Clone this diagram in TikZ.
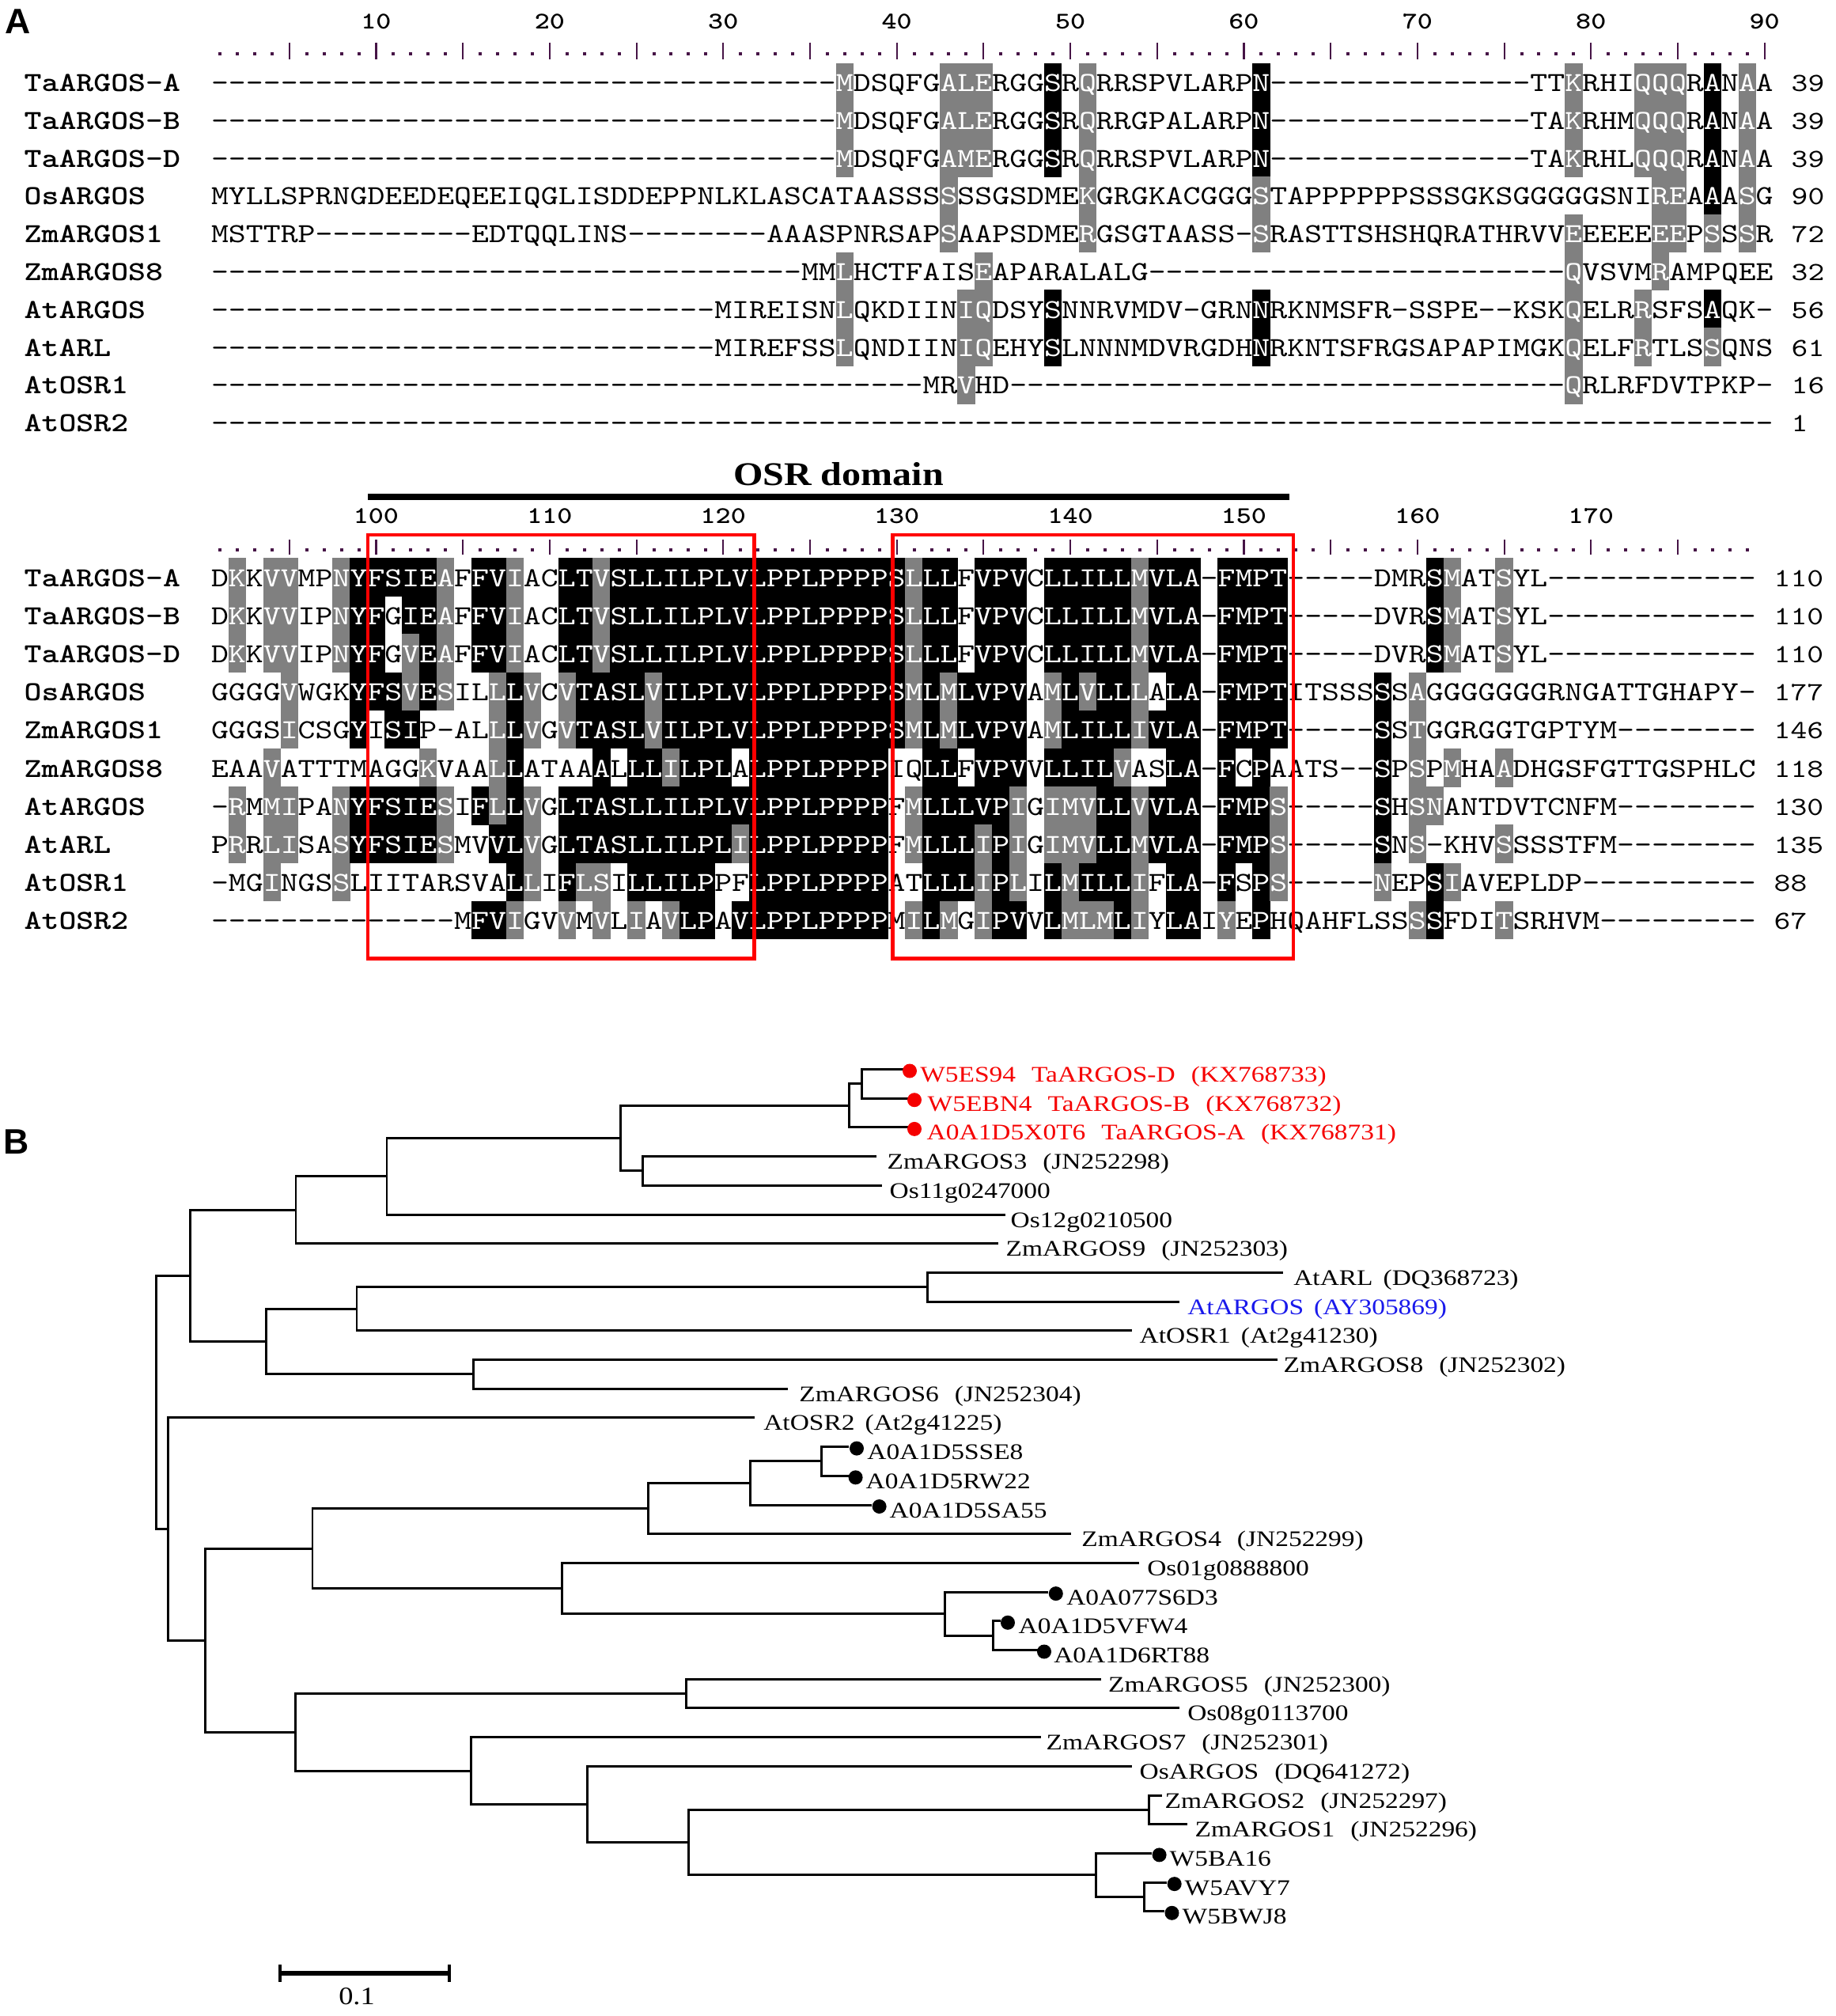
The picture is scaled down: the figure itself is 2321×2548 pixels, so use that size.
\documentclass[tikz,border=0pt]{standalone}
\usepackage{fontspec}
\setmainfont{Liberation Serif}
\newfontfamily\seqfont{lmmono10-regular.otf}[FakeStretch=1.2]
\newfontfamily\seqboldfont{lmmonolt10-bold.otf}[FakeStretch=1.2]
\newfontfamily\treefont{Liberation Serif}[FakeStretch=1.15]
\newfontfamily\leaffont{Liberation Serif}[FakeStretch=1.19]
\newfontfamily\panelfont{Liberation Sans}
\definecolor{shgray}{RGB}{128,128,128}
\definecolor{tickcol}{RGB}{70,20,70}
\definecolor{labred}{RGB}{245,0,0}
\definecolor{labblue}{RGB}{25,25,235}
\newcommand\dsp{\hspace{2.0mm}}
\newcommand\ssp{\hspace{1.3mm}}

% one residue per cell; shading code: b black, g gray, . none
\newcount\seqk
\newcommand\seqrow[4]{%
  \global\seqk=0
  \def\seqy{#1}\def\seqtag{#2}%
  \seqstep#3\relax#4\relax}
\def\seqstep#1#2\relax#3#4\relax{%
  \global\advance\seqk by 1
  \pgfmathsetmacro\seqx{278+(\the\seqk-1)*21.94}%
  \if#3b%
    \fill[cellb] (\seqx-11.2,\seqy-26) rectangle (\seqx+11.2,\seqy+22.6);
    \node[res,text=white] (\seqtag-\the\seqk) at (\seqx,\seqy+10) {#1};%
  \else\if#3g%
    \fill[cellg] (\seqx-11.2,\seqy-26) rectangle (\seqx+11.2,\seqy+22.6);
    \node[res,text=white] (\seqtag-\the\seqk) at (\seqx,\seqy+10) {#1};%
  \else
    \node[res] (\seqtag-\the\seqk) at (\seqx,\seqy+10) {#1};%
  \fi\fi
  \ifx\relax#2\relax\else\seqstep#2\relax#4\relax\fi}

\begin{document}
\begin{tikzpicture}[x=0.1mm, y=-0.1mm,
  res/.style={anchor=base, inner sep=0pt, font=\seqfont\fontsize{9.9}{10}\selectfont},
  seqname/.style={anchor=base west, inner sep=0pt, font=\seqboldfont\fontsize{9.9}{10}\selectfont},
  seqend/.style={anchor=base west, inner sep=0pt, font=\seqfont\fontsize{9.4}{10}\selectfont},
  rulenum/.style={anchor=base, inner sep=0pt, font=\seqboldfont\fontsize{8.6}{9}\selectfont},
  ruletick/.style={draw=tickcol, line width=0.6pt},
  cellb/.style={fill=black},
  cellg/.style={fill=shgray},
  osrbox/.style={draw=red, line width=1.4pt},
  branch/.style={line width=0.85pt},
  leaflab/.style={anchor=base west, inner sep=0pt, font=\leaffont\fontsize{8}{9}\selectfont},
  dotmark/.style={circle, inner sep=0pt, minimum size=1.8mm},
  panel/.style={inner sep=0pt, font=\panelfont\bfseries\fontsize{12.7}{13}\selectfont}
]
\useasboundingbox (0,0) rectangle (2321,2548);

\node[panel] (panA) at (23,27) {A};
\node[panel] (panB) at (21,1443) {B};

% ---- alignment, block one
\foreach \k in {1,...,90}{
  \pgfmathsetmacro\rx{278+(\k-1)*21.94}
  \pgfmathtruncatemacro\kmod{mod(\k,5)}
  \ifnum\kmod=0
    \draw[ruletick] (\rx,53.6) -- (\rx,75);
  \else
    \fill[tickcol] (\rx-2,65.5) rectangle (\rx+2,69.5);
  \fi
}
\foreach \n in {1,...,9}{
  \pgfmathtruncatemacro\lab{10*\n}
  \node[rulenum] (ra-\n) at ({278+(10*\n-1)*21.94},36) {\lab};
}

\seqrow{105.5}{a1}{---------- ---------- ---------- ------MDSQ FGALERGGSR QRRSPVLARP N--------- ------TTKR HIQQQRANAA}
  {.......... .......... .......... ......g... ..ggg...b. g......... b......... ........g. ..ggg.b.g.}
\seqrow{153.3}{a2}{---------- ---------- ---------- ------MDSQ FGALERGGSR QRRGPALARP N--------- ------TAKR HMQQQRANAA}
  {.......... .......... .......... ......g... ..ggg...b. g......... b......... ........g. ..ggg.b.g.}
\seqrow{201.1}{a3}{---------- ---------- ---------- ------MDSQ FGAMERGGSR QRRSPVLARP N--------- ------TAKR HLQQQRANAA}
  {.......... .......... .......... ......g... ..ggg...b. g......... b......... ........g. ..ggg.b.g.}
\seqrow{248.9}{a4}{MYLLSPRNGD EEDEQEEIQG LISDDEPPNL KLASCATAAS SSSSSGSDME KGRGKACGGG STAPPPPPPS SSGKSGGGGG SNIREAAASG}
  {.......... .......... .......... .......... ..g....... g......... g......... .......... ...gg.b.g.}
\seqrow{296.7}{a5}{MSTTRP---- -----EDTQQ LINS------ --AAASPNRS APSAAPSDME RGSGTAASS- SRASTTSHSH QRATHRVVEE EEEEEPSSSR}
  {.......... .......... .......... .......... ..g....... g......... g......... ........g. ...gg.g.g.}
\seqrow{344.5}{a6}{---------- ---------- ---------- ----MMLHCT FAISEAPARA LALG------ ---------- --------QV SVMRAMPQEE}
  {.......... .......... .......... ......g... ....g..... .......... .......... ........g. ...g......}
\seqrow{392.3}{a7}{---------- ---------- ---------M IREISNLQKD IINIQDSYSN NRVMDV-GRN NRKNMSFR-S SPE--KSKQE LRRSFSAQK-}
  {.......... .......... .......... ......g... ...gg...b. .......... b......... ........g. ..g...b...}
\seqrow{440.1}{a8}{---------- ---------- ---------M IREFSSLQND IINIQEHYSL NNNMDVRGDH NRKNTSFRGS APAPIMGKQE LFRTLSSQNS}
  {.......... .......... .......... ......g... ...gg...b. .......... b......... ........g. ..g...g...}
\seqrow{487.9}{a9}{---------- ---------- ---------- ---------- -MRVHD---- ---------- ---------- --------QR LRFDVTPKP-}
  {.......... .......... .......... .......... ...g...... .......... .......... ........g. ..........}
\seqrow{535.7}{a10}{---------- ---------- ---------- ---------- ---------- ---------- ---------- ---------- ----------}
  {.......... .......... .......... .......... .......... .......... .......... .......... ..........}

\foreach \nm/\num/\y [count=\r] in {TaARGOS-A/39/105.5, TaARGOS-B/39/153.3, TaARGOS-D/39/201.1,
    OsARGOS/90/248.9, ZmARGOS1/72/296.7, ZmARGOS8/32/344.5, AtARGOS/56/392.3,
    AtARL/61/440.1, AtOSR1/16/487.9, AtOSR2/1/535.7}{
  \node[seqname] (na-\r) at (30,\y+10) {\nm};
  \node[seqend] (ea-\r) at (2264,\y+10) {\num};
}

% ---- alignment, block two
\node[anchor=base, inner sep=0pt, font=\treefont\bfseries\fontsize{11.9}{12}\selectfont] (osr) at (1060,613) {OSR domain};
\draw[line width=2.3pt] (465,628) -- (1630,628);

\foreach \k in {1,...,89}{
  \pgfmathsetmacro\rx{278+(\k-1)*21.94}
  \pgfmathtruncatemacro\kmod{mod(\k,5)}
  \ifnum\kmod=0
    \draw[ruletick] (\rx,682) -- (\rx,701);
  \else
    \fill[tickcol] (\rx-2,693) rectangle (\rx+2,697);
  \fi
}
\foreach \n in {1,...,8}{
  \pgfmathtruncatemacro\lab{90+10*\n}
  \node[rulenum] (rb-\n) at ({278+(10*\n-1)*21.94},661) {\lab};
}

\seqrow{731}{b1}{DKKVVMPNYF SIEAFFVIAC LTVSLLILPL VLPPLPPPPS LLLFVPVCLL ILLMVLA-FM PT-----DMR SMATSYL--- ---------}
  {.g.gg..gbb bbbg.bbg.. bbgbbbbbbb bbbbbbbbbb gbb.bbb.bb bbbgbbb.bb bb........ bg..g..... .........}
\seqrow{779.2}{b2}{DKKVVIPNYF GIEAFFVIAC LTVSLLILPL VLPPLPPPPS LLLFVPVCLL ILLMVLA-FM PT-----DVR SMATSYL--- ---------}
  {.g.gg..gbb .bbg.bbg.. bbgbbbbbbb bbbbbbbbbb gbb.bbb.bb bbbgbbb.bb bb........ bg..g..... .........}
\seqrow{827.4}{b3}{DKKVVIPNYF GVEAFFVIAC LTVSLLILPL VLPPLPPPPS LLLFVPVCLL ILLMVLA-FM PT-----DVR SMATSYL--- ---------}
  {.g.gg..gbb .gbg.bbg.. bbgbbbbbbb bbbbbbbbbb gbb.bbb.bb bbbgbbb.bb bb........ bg..g..... .........}
\seqrow{875.6}{b4}{GGGGVWGKYF SVESILLLVC VTASLVILPL VLPPLPPPPS MLMLVPVAML VLLLALA-FM PTITSSSSSA GGGGGGGRNG ATTGHAPY-}
  {....g...bb bgbg..gbg. gbbbbgbbbb bbbbbbbbbb gbgbbbb.gb gbbg.bb.bb bb.....b.g .......... .........}
\seqrow{923.8}{b5}{GGGSICSGYI SIP-ALLLVG VTASLVILPL VLPPLPPPPS MLMLVPVAML ILLIVLA-FM PT-----SST GGRGGTGPTY M--------}
  {....g...b. bb....gbg. gbbbbgbbbb bbbbbbbbbb gbgbbbb.gb bbbgbbb.bb bb.....b.g .......... .........}
\seqrow{972}{b6}{EAAVATTTMA GGKVAALLAT AAALLLILPL ALPPLPPPPI QLLFVPVVLL ILVASLA-FC PAATS--SPS PMHAADHGSF GTTGSPHLC}
  {...g...... ..g...gb.. ..b.bbgbbb .bbbbbbbb. .bb.bbb.bb bbg..bb.b. b......b.g .g..g..... .........}
\seqrow{1020.2}{b7}{-RMMIPANYF SIESIFLLVG LTASLLILPL VLPPLPPPPF MLLLVPIGIM VLLVVLA-FM PS-----SHS NANTDVTCNF M--------}
  {.g.gg..gbb bbbg.bgbg. bbbbbbbbbb bbbbbbbbb. gbbbbbg.gg gbbgbbb.bb bg.....b.g g......... .........}
\seqrow{1068.4}{b8}{PRRLISASYF SIESMVVLVG LTASLLILPL ILPPLPPPPF MLLLIPIGIM VLLMVLA-FM PS-----SNS -KHVSSSSTF M--------}
  {.g.gg..gbb bbbg..bbg. bbbbbbbbbb gbbbbbbbb. gbbbgbg.gg gbbgbbb.bb bg.....b.g ....g..... .........}
\seqrow{1116.6}{b9}{-MGINGSSLI ITARSVALLI FLSILLILPP FLPPLPPPPA TLLLIPLILM ILLIFLA-FS PS-----NEP SIAVEPLDP- ---------}
  {...g...g.. .......bg. bgg.bbbbb. .bbbbbbbb. .bbbgbg.bg bbbg.bb.b. bg.....g.. bg........ .........}
\seqrow{1164.8}{b10}{---------- ----MFVIGV VMVLIAVLPA VLPPLPPPPM ILMGIPVVLM LMLIYLAIYE PHQAHFLSSS SFDITSRHVM ---------}
  {.......... .....bbg.. g.g.g.gbb. bbbbbbbbb. gbg.gbb.bg ggbg.bb.g. b........g b...g..... .........}

\foreach \nm/\num/\y [count=\r] in {TaARGOS-A/110/731, TaARGOS-B/110/779.2, TaARGOS-D/110/827.4,
    OsARGOS/177/875.6, ZmARGOS1/146/923.8, ZmARGOS8/118/972, AtARGOS/130/1020.2,
    AtARL/135/1068.4, AtOSR1/88/1116.6, AtOSR2/67/1164.8}{
  \node[seqname] (nb-\r) at (30,\y+10) {\nm};
  \node[seqend] (eb-\r) at (2242,\y+10) {\num};
}

\draw[osrbox] (465,676) rectangle (953.5,1211.7);
\draw[osrbox] (1128.5,676) rectangle (1635,1211.7);

% ---- tree: leaf tips
\coordinate (t1) at (1143.5,1351.5);
\coordinate (t2) at (1150,1388.2);
\coordinate (t3) at (1148,1424.9);
\coordinate (t4) at (1108.4,1461.6);
\coordinate (t5) at (1114.8,1498.3);
\coordinate (t6) at (1271,1535);
\coordinate (t7) at (1261.5,1571.7);
\coordinate (t8) at (1621.8,1608.4);
\coordinate (t9) at (1491,1645.1);
\coordinate (t10) at (1430.5,1681.8);
\coordinate (t11) at (1615.4,1718.5);
\coordinate (t12) at (996,1755.2);
\coordinate (t13) at (954,1791.9);
\coordinate (t14) at (1073,1828.6);
\coordinate (t15) at (1073,1865.3);
\coordinate (t16) at (1102,1902);
\coordinate (t17) at (1354,1938.7);
\coordinate (t18) at (1440,1975.4);
\coordinate (t19) at (1325,2012.1);
\coordinate (t20) at (1264.7,2048.8);
\coordinate (t21) at (1312.5,2085.5);
\coordinate (t22) at (1392,2122.2);
\coordinate (t23) at (1491,2158.9);
\coordinate (t24) at (1315.7,2195.6);
\coordinate (t25) at (1430.5,2232.3);
\coordinate (t26) at (1468.8,2269);
\coordinate (t27) at (1500.6,2305.7);
\coordinate (t28) at (1456,2342.4);
\coordinate (t29) at (1475,2379.1);
\coordinate (t30) at (1472,2415.8);

% inner nodes
\coordinate (n1) at (1089.4,1369.85);
\coordinate (n2) at (1073.3,1397.4);
\coordinate (n3) at (812.4,1479.95);
\coordinate (n4) at (784.3,1438.7);
\coordinate (n5) at (489,1486.8);
\coordinate (n6) at (374,1529.3);
\coordinate (n7) at (1172,1626.75);
\coordinate (n8) at (451,1654.3);
\coordinate (n9) at (598.4,1736.85);
\coordinate (n10) at (336.7,1695.6);
\coordinate (n11) at (240.6,1612.4);
\coordinate (n12) at (1038.2,1846.95);
\coordinate (n13) at (948.4,1874.5);
\coordinate (n14) at (819.4,1906.6);
\coordinate (n15) at (1255,2067.15);
\coordinate (n16) at (1194.5,2039.6);
\coordinate (n17) at (710.6,2007.5);
\coordinate (n18) at (395,1957);
\coordinate (n19) at (867.8,2140.55);
\coordinate (n20) at (1452.8,2287.35);
\coordinate (n21) at (1446.4,2397.45);
\coordinate (n22) at (1385.8,2369.9);
\coordinate (n23) at (870.6,2328.6);
\coordinate (n24) at (742.2,2280.5);
\coordinate (n25) at (595.6,2238);
\coordinate (n26) at (373.9,2189.3);
\coordinate (n27) at (259.6,2073.2);
\coordinate (n28) at (212.6,1932.5);
\coordinate (root) at (197.8,1772.5);

\draw[branch] (t1) -| (n1) |- (t2);
\draw[branch] (n1) -| (n2) |- (t3);
\draw[branch] (t4) -| (n3) |- (t5);
\draw[branch] (n2) -| (n4) |- (n3);
\draw[branch] (n4) -| (n5) |- (t6);
\draw[branch] (n5) -| (n6) |- (t7);
\draw[branch] (t8) -| (n7) |- (t9);
\draw[branch] (n7) -| (n8) |- (t10);
\draw[branch] (t11) -| (n9) |- (t12);
\draw[branch] (n8) -| (n10) |- (n9);
\draw[branch] (n6) -| (n11) |- (n10);
\draw[branch] (t14) -| (n12) |- (t15);
\draw[branch] (n12) -| (n13) |- (t16);
\draw[branch] (n13) -| (n14) |- (t17);
\draw[branch] (t20) -| (n15) |- (t21);
\draw[branch] (t19) -| (n16) |- (n15);
\draw[branch] (t18) -| (n17) |- (n16);
\draw[branch] (n14) -| (n18) |- (n17);
\draw[branch] (t22) -| (n19) |- (t23);
\draw[branch] (t26) -| (n20) |- (t27);
\draw[branch] (t29) -| (n21) |- (t30);
\draw[branch] (t28) -| (n22) |- (n21);
\draw[branch] (n20) -| (n23) |- (n22);
\draw[branch] (t25) -| (n24) |- (n23);
\draw[branch] (t24) -| (n25) |- (n24);
\draw[branch] (n19) -| (n26) |- (n25);
\draw[branch] (n18) -| (n27) |- (n26);
\draw[branch] (t13) -| (n28) |- (n27);
\draw[branch] (n11) -| (root) |- (n28);

% marked leaves
\foreach \i/\x/\c in {1/1150/labred, 2/1156/labred, 3/1156/labred, 14/1083/black, 15/1081.6/black,
    16/1111.6/black, 19/1334.8/black, 20/1274/black, 21/1320/black, 28/1465.6/black,
    29/1484.7/black, 30/1481.5/black}{
  \node[dotmark, fill=\c] (d\i) at (\x,{1353.5+(\i-1)*36.7}) {};
}

% leaf labels
\node[leaflab, text=labred] (lab1) at (1162.6,1367.5) {W5ES94\dsp TaARGOS-D\dsp (KX768733)};
\node[leaflab, text=labred] (lab2) at (1172,1404.2) {W5EBN4\dsp TaARGOS-B\dsp (KX768732)};
\node[leaflab, text=labred] (lab3) at (1171,1440.9) {A0A1D5X0T6\dsp TaARGOS-A\dsp (KX768731)};
\node[leaflab] (lab4) at (1121,1477.6) {ZmARGOS3\dsp (JN252298)};
\node[leaflab] (lab5) at (1124,1514.3) {Os11g0247000};
\node[leaflab] (lab6) at (1277,1551) {Os12g0210500};
\node[leaflab] (lab7) at (1271,1587.7) {ZmARGOS9\dsp (JN252303)};
\node[leaflab] (lab8) at (1634.6,1624.4) {AtARL\ssp (DQ368723)};
\node[leaflab, text=labblue] (lab9) at (1500.6,1661.1) {AtARGOS\ssp (AY305869)};
\node[leaflab] (lab10) at (1440,1697.8) {AtOSR1\ssp (At2g41230)};
\node[leaflab] (lab11) at (1622,1734.5) {ZmARGOS8\dsp (JN252302)};
\node[leaflab] (lab12) at (1009.6,1771.2) {ZmARGOS6\dsp (JN252304)};
\node[leaflab] (lab13) at (964.6,1807.9) {AtOSR2\ssp (At2g41225)};
\node[leaflab] (lab14) at (1095.7,1844.6) {A0A1D5SSE8};
\node[leaflab] (lab15) at (1094,1881.3) {A0A1D5RW22};
\node[leaflab] (lab16) at (1124,1918) {A0A1D5SA55};
\node[leaflab] (lab17) at (1366.7,1954.7) {ZmARGOS4\dsp (JN252299)};
\node[leaflab] (lab18) at (1449.6,1991.4) {Os01g0888800};
\node[leaflab] (lab19) at (1347.6,2028.1) {A0A077S6D3};
\node[leaflab] (lab20) at (1287,2064.8) {A0A1D5VFW4};
\node[leaflab] (lab21) at (1331.6,2101.5) {A0A1D6RT88};
\node[leaflab] (lab22) at (1400.5,2138.2) {ZmARGOS5\dsp (JN252300)};
\node[leaflab] (lab23) at (1500.6,2174.9) {Os08g0113700};
\node[leaflab] (lab24) at (1322,2211.6) {ZmARGOS7\dsp (JN252301)};
\node[leaflab] (lab25) at (1440,2248.3) {OsARGOS\dsp (DQ641272)};
\node[leaflab] (lab26) at (1472,2285) {ZmARGOS2\dsp (JN252297)};
\node[leaflab] (lab27) at (1510,2321.7) {ZmARGOS1\dsp (JN252296)};
\node[leaflab] (lab28) at (1478,2358.4) {W5BA16};
\node[leaflab] (lab29) at (1497,2395.1) {W5AVY7};
\node[leaflab] (lab30) at (1494,2431.8) {W5BWJ8};

% scale bar
\coordinate (sbl) at (354,2494);
\coordinate (sbr) at (568,2494);
\draw[line width=1.5pt] (sbl) -- (sbr);
\draw[line width=1.1pt] ([yshift=1.1mm]sbl) -- ([yshift=-1.1mm]sbl);
\draw[line width=1.1pt] ([yshift=1.1mm]sbr) -- ([yshift=-1.1mm]sbr);
\node[anchor=base, inner sep=0pt, font=\treefont\fontsize{9}{10}\selectfont] (sblab) at (451,2533) {0.1};
\end{tikzpicture}
\end{document}
